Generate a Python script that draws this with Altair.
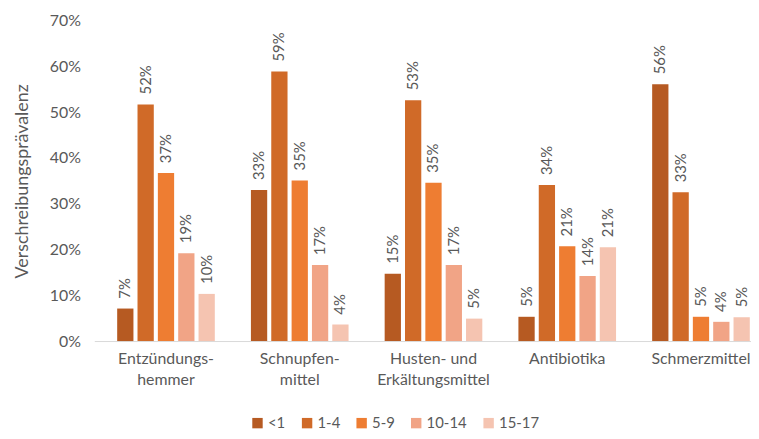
import altair as alt
import pandas as pd

categories = ["Entzündungs-\nhemmer", "Schnupfen-\nmittel", "Husten- und\nErkältungsmittel", "Antibiotika", "Schmerzmittel"]
groups = ["<1", "1-4", "5-9", "10-14", "15-17"]
values = [
    [7.1, 51.7, 36.7, 19.2, 10.3],
    [33.0, 58.9, 35.1, 16.6, 3.6],
    [14.7, 52.6, 34.6, 16.6, 4.9],
    [5.3, 34.1, 20.7, 14.2, 20.5],
    [56.1, 32.5, 5.3, 4.2, 5.2],
]
colors = ["#B65A22", "#D06A28", "#EE7D32", "#F1A486", "#F5C4B1"]

rows = []
for c, vals in zip(categories, values):
    for g, v in zip(groups, vals):
        rows.append({"cat": c, "grp": g, "val": v / 100})
df = pd.DataFrame(rows)

FONT = "Lato"
GRAY = "#595959"

x = alt.X("cat:N", sort=categories, title=None,
          scale=alt.Scale(paddingInner=0.27, paddingOuter=0.09, align=0.95),
          axis=alt.Axis(labelAngle=0, labelExpr="split(datum.label, '\\n')",
                        labelFontSize=16, labelColor=GRAY, labelFont=FONT,
                        ticks=False, domainColor="#D9D9D9", labelPadding=10,
                        labelLineHeight=21))
xo = alt.XOffset("grp:N", sort=groups, scale=alt.Scale(paddingInner=0.2, paddingOuter=0))
y = alt.Y("val:Q", title="Verschreibungsprävalenz",
          scale=alt.Scale(domain=[0, 0.7]),
          axis=alt.Axis(format=".0%", values=[0, .1, .2, .3, .4, .5, .6, .7], grid=False,
                        domain=False, ticks=False, labelFontSize=16, labelColor=GRAY,
                        labelFont=FONT, labelPadding=14, titleFont=FONT, titleFontSize=18,
                        titleColor=GRAY, titleFontWeight="normal", titlePadding=18))

color = alt.Color("grp:N", sort=groups, scale=alt.Scale(domain=groups, range=colors),
                  legend=alt.Legend(title=None, orient="none", direction="horizontal",
                                    legendX=157, legendY=398,
                                    symbolType="square", symbolSize=110, symbolStrokeWidth=0,
                                    labelFontSize=15, labelColor=GRAY, labelFont=FONT,
                                    columnPadding=14, labelOffset=3))

base = alt.Chart(df)
bars = base.mark_bar().encode(x=x, xOffset=xo, y=y, color=color)
labels = base.mark_text(angle=270, align="left", baseline="middle", dx=10,
                        fontSize=15, font=FONT, color=GRAY).encode(
    x=x, xOffset=xo, y=y, text=alt.Text("val:Q", format=".0%"))

chart = (bars + labels).properties(width=662, height=323, padding={"left": 5, "top": 3, "right": 0, "bottom": 5}).configure_view(stroke=None)

chart.save("out.html", embed_options={"renderer": "svg", "actions": False})
